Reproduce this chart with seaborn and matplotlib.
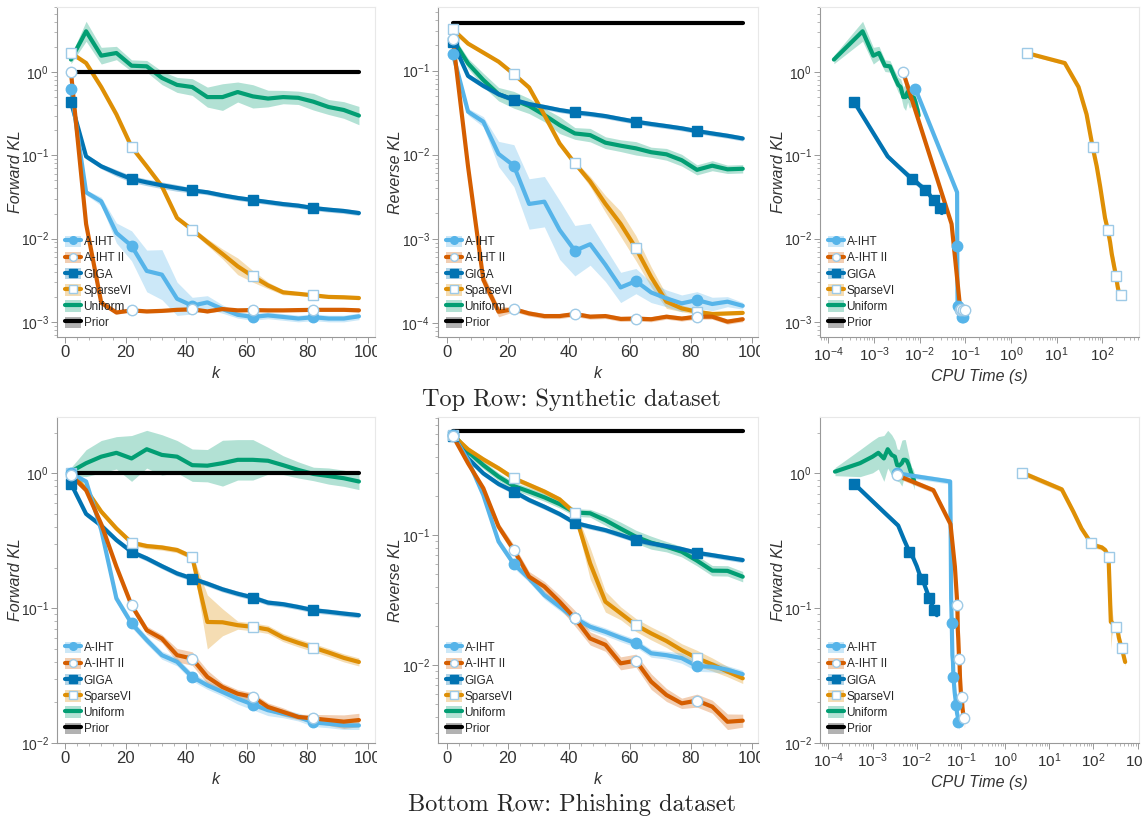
"""
Coreset comparison figure: forward / reverse KL vs coreset size k and CPU time
"""
import numpy as np
import matplotlib
matplotlib.use('Agg')
import matplotlib.pyplot as plt
from matplotlib.lines import Line2D
from matplotlib.patches import Patch
from matplotlib.ticker import AutoMinorLocator, LogLocator, NullFormatter
from matplotlib.transforms import Bbox, TransformedBbox
import seaborn as sns

# ---------------- data ----------------
k = [2, 7, 12, 17, 22, 27, 32, 37, 42, 47, 52, 57, 62, 67, 72, 77, 82, 87, 92, 97]
marker_k = [2, 22, 42, 62, 82]

# Synthetic dataset, forward KL
syn_fwd_aiht = [0.625, 0.036, 0.028, 0.0117, 0.0082, 0.0041, 0.0037, 0.0019, 0.00157, 0.00172,
                0.00143, 0.00122, 0.00115, 0.0012, 0.00115, 0.0011, 0.00114, 0.0011, 0.0011, 0.00117]
syn_fwd_aiht2 = [1.0, 0.015, 0.0017, 0.0013, 0.00138, 0.00134, 0.00136, 0.0014, 0.00142, 0.00134,
                 0.00143, 0.00138, 0.00139, 0.00138, 0.00138, 0.00139, 0.0014, 0.0014, 0.0014, 0.00138]
syn_fwd_giga = [0.436, 0.097, 0.0738, 0.0614, 0.052, 0.0474, 0.0437, 0.0406, 0.038, 0.036,
                0.0331, 0.0308, 0.0291, 0.0275, 0.026, 0.0249, 0.0233, 0.0223, 0.0215, 0.0203]
syn_fwd_svi = [1.69, 1.28, 0.66, 0.31, 0.126, 0.0738, 0.0425, 0.0177, 0.0128, 0.0091,
               0.00655, 0.00466, 0.00353, 0.00275, 0.00227, 0.00218, 0.00209, 0.002, 0.00198, 0.00194]
syn_fwd_unif = [1.41, 3.08, 1.57, 1.69, 1.19, 1.17, 0.85, 0.70, 0.66, 0.50,
                0.50, 0.575, 0.51, 0.48, 0.50, 0.49, 0.44, 0.38, 0.35, 0.30]
syn_fwd_prior = 1.0

# Synthetic dataset, reverse KL
syn_rev_aiht = [0.16, 0.0325, 0.0247, 0.0102, 0.0074, 0.00259, 0.00276, 0.00127, 0.00072, 0.00086,
                0.00049, 0.000263, 0.000313, 0.000229, 0.000195, 0.00017, 0.000186, 0.000167, 0.000178, 0.000159]
syn_rev_aiht2 = [0.24, 0.0072, 0.000324, 0.000135, 0.000145, 0.000129, 0.00012, 0.00012, 0.000127, 0.000118,
                 0.00012, 0.000111, 0.000112, 0.00011, 0.000118, 0.000112, 0.000118, 0.000118, 0.000103, 0.00011]
syn_rev_giga = [0.221, 0.0865, 0.066, 0.0525, 0.045, 0.040, 0.037, 0.034, 0.0319, 0.0305,
                0.0288, 0.0266, 0.0247, 0.0232, 0.0219, 0.0206, 0.0191, 0.0179, 0.0168, 0.0156]
syn_rev_svi = [0.31, 0.21, 0.164, 0.128, 0.091, 0.063, 0.0297, 0.0136, 0.0079, 0.0048,
               0.0026, 0.0015, 0.00077, 0.00035, 0.000178, 0.000148, 0.000135, 0.000127, 0.000129, 0.000131]
syn_rev_unif = [0.236, 0.122, 0.0775, 0.0525, 0.045, 0.038, 0.0297, 0.0225, 0.0179, 0.0171,
                0.0139, 0.0128, 0.0119, 0.0107, 0.0101, 0.0086, 0.0066, 0.0074, 0.0067, 0.0068]
syn_rev_prior = 0.372

# Synthetic dataset, CPU time (s)
syn_t_aiht = [0.0081, 0.066, 0.0662, 0.0664, 0.0666, 0.0668, 0.067, 0.0675, 0.068, 0.072,
              0.076, 0.080, 0.085, 0.087, 0.088, 0.089, 0.090, 0.091, 0.092, 0.093]
syn_t_aiht2 = [0.00435, 0.05, 0.075, 0.077, 0.078, 0.079, 0.080, 0.081, 0.082, 0.084,
               0.086, 0.088, 0.090, 0.092, 0.094, 0.096, 0.100, 0.101, 0.102, 0.103]
syn_t_giga = [0.00037, 0.0020, 0.0034, 0.0049, 0.0068, 0.0086, 0.0101, 0.012, 0.0134, 0.0155,
              0.0168, 0.0183, 0.0204, 0.0216, 0.0232, 0.0248, 0.0276, 0.0285, 0.0295, 0.0305]
syn_t_svi = [2.2, 15, 30, 45, 61, 75, 89, 114, 131, 147,
             160, 180, 199, 213, 228, 244, 257, 265, 272, 280]
syn_t_unif = [0.000133, 0.000565, 0.00097, 0.00129, 0.00174, 0.00224, 0.00288, 0.00341, 0.00384, 0.00439,
              0.00493, 0.00546, 0.00594, 0.00646, 0.00703, 0.00752, 0.00804, 0.0086, 0.00904, 0.0095]

# Phishing dataset, forward KL
phi_fwd_aiht = [1.0, 0.87, 0.38, 0.118, 0.077, 0.058, 0.0448, 0.040, 0.0309, 0.0268,
                0.0239, 0.0213, 0.0193, 0.0175, 0.0165, 0.0156, 0.0142, 0.0139, 0.0135, 0.0135]
phi_fwd_aiht2 = [0.97, 0.75, 0.42, 0.203, 0.105, 0.0687, 0.0595, 0.0448, 0.0423, 0.0309,
                 0.026, 0.0232, 0.022, 0.0185, 0.017, 0.0156, 0.0152, 0.0148, 0.0144, 0.0148]
phi_fwd_giga = [0.84, 0.50, 0.41, 0.32, 0.262, 0.234, 0.205, 0.181, 0.166, 0.152,
                0.138, 0.128, 0.12, 0.110, 0.107, 0.102, 0.0966, 0.094, 0.0912, 0.0887]
phi_fwd_svi = [1.01, 0.76, 0.52, 0.39, 0.306, 0.289, 0.282, 0.27, 0.24, 0.079,
               0.0786, 0.0748, 0.0727, 0.0695, 0.0605, 0.0553, 0.051, 0.0469, 0.0428, 0.0399]
phi_fwd_unif = [1.03, 1.19, 1.33, 1.42, 1.29, 1.51, 1.37, 1.33, 1.15, 1.14,
                1.19, 1.26, 1.26, 1.24, 1.15, 1.06, 0.99, 0.955, 0.92, 0.87]
phi_fwd_prior = 1.0

# Phishing dataset, reverse KL
phi_rev_aiht = [0.587, 0.378, 0.203, 0.089, 0.0598, 0.0464, 0.0345, 0.0281, 0.0229, 0.0197,
                0.018, 0.0162, 0.0147, 0.0123, 0.0119, 0.0113, 0.0098, 0.0097, 0.0092, 0.0085]
phi_rev_aiht2 = [0.58, 0.356, 0.229, 0.116, 0.0767, 0.0478, 0.0401, 0.0307, 0.0229, 0.016,
                 0.0143, 0.0103, 0.0108, 0.00745, 0.00588, 0.00507, 0.00532, 0.00478, 0.00366, 0.00373]
phi_rev_giga = [0.58, 0.389, 0.298, 0.247, 0.216, 0.186, 0.165, 0.145, 0.124, 0.116,
                0.109, 0.1, 0.0915, 0.0863, 0.0822, 0.078, 0.073, 0.070, 0.067, 0.0642]
phi_rev_svi = [0.587, 0.456, 0.382, 0.326, 0.273, 0.243, 0.216, 0.188, 0.147, 0.0605,
               0.0307, 0.025, 0.0203, 0.0175, 0.0153, 0.013, 0.0113, 0.0101, 0.0089, 0.0079]
phi_rev_unif = [0.6, 0.437, 0.345, 0.281, 0.238, 0.216, 0.195, 0.173, 0.149, 0.147,
                0.130, 0.112, 0.097, 0.0873, 0.0813, 0.0744, 0.0635, 0.0532, 0.053, 0.0478]
phi_rev_prior = 0.635

# Phishing dataset, CPU time (s)
phi_t_aiht = [0.0035, 0.057, 0.0585, 0.060, 0.062, 0.063, 0.064, 0.066, 0.0675, 0.070,
              0.072, 0.075, 0.078, 0.080, 0.082, 0.085, 0.088, 0.090, 0.091, 0.092]
phi_t_aiht2 = [0.0035, 0.0238, 0.058, 0.073, 0.083, 0.085, 0.087, 0.090, 0.0925, 0.095,
               0.098, 0.100, 0.1045, 0.108, 0.111, 0.115, 0.118, 0.119, 0.120, 0.121]
phi_t_giga = [0.00038, 0.0020, 0.0038, 0.0052, 0.0068, 0.0084, 0.010, 0.0114, 0.013, 0.0146,
              0.0163, 0.0177, 0.0194, 0.0207, 0.0218, 0.0233, 0.025, 0.026, 0.0273, 0.0284]
phi_t_svi = [2.47, 19.2, 35, 53.5, 87, 119, 155, 184, 219, 247,
             260, 284, 326, 349, 375, 402, 438, 462, 494, 521]
phi_t_unif = [0.000141, 0.00052, 0.0010, 0.00135, 0.0018, 0.0022, 0.0027, 0.0032, 0.0036, 0.0040,
              0.0046, 0.0050, 0.0055, 0.0060, 0.0066, 0.0071, 0.0076, 0.0080, 0.0084, 0.0088]

# half width of the shaded bands (decades)
syn_fwd_band = {
    'A-IHT': [0.02, 0.03, 0.05, 0.12, 0.18, 0.25, 0.3, 0.2, 0.1, 0.08, 0.05, 0.04, 0.04, 0.04, 0.04, 0.04, 0.04, 0.04, 0.04, 0.04],
    'A-IHT II': [0.02] * 20,
    'GIGA': [0.02, 0.03, 0.03, 0.04, 0.04, 0.04, 0.04, 0.04, 0.03, 0.03, 0.03, 0.03, 0.03, 0.03, 0.03, 0.03, 0.03, 0.03, 0.03, 0.03],
    'SparseVI': [0.02, 0.02, 0.02, 0.02, 0.02, 0.02, 0.02, 0.02, 0.03, 0.04, 0.06, 0.1, 0.07, 0.04, 0.03, 0.02, 0.02, 0.02, 0.02, 0.02],
    'Uniform': [0.05, 0.12, 0.10, 0.08, 0.07, 0.07, 0.08, 0.09, 0.10, 0.12, 0.16, 0.12, 0.14, 0.10, 0.08, 0.08, 0.10, 0.09, 0.10, 0.11],
}
syn_rev_band = {
    'A-IHT': [0.02, 0.04, 0.06, 0.15, 0.25, 0.3, 0.3, 0.35, 0.3, 0.25, 0.2, 0.18, 0.15, 0.12, 0.1, 0.1, 0.1, 0.08, 0.06, 0.04],
    'A-IHT II': [0.02, 0.03, 0.08, 0.06, 0.03, 0.03, 0.03, 0.03, 0.03, 0.03, 0.03, 0.03, 0.03, 0.03, 0.03, 0.03, 0.03, 0.03, 0.03, 0.03],
    'GIGA': [0.03] * 20,
    'SparseVI': [0.02, 0.02, 0.02, 0.02, 0.02, 0.03, 0.03, 0.03, 0.03, 0.06, 0.1, 0.15, 0.15, 0.12, 0.08, 0.04, 0.03, 0.03, 0.02, 0.02],
    'Uniform': [0.05, 0.06, 0.08, 0.08, 0.1, 0.09, 0.08, 0.1, 0.07, 0.08, 0.07, 0.07, 0.08, 0.06, 0.07, 0.07, 0.06, 0.06, 0.05, 0.05],
}
phi_fwd_band = {
    'A-IHT': [0.02, 0.02, 0.02, 0.03, 0.03, 0.03, 0.03, 0.03, 0.03, 0.03, 0.03, 0.04, 0.04, 0.04, 0.03, 0.03, 0.03, 0.03, 0.03, 0.03],
    'A-IHT II': [0.02, 0.02, 0.02, 0.02, 0.03, 0.03, 0.03, 0.05, 0.05, 0.05, 0.03, 0.03, 0.03, 0.03, 0.03, 0.02, 0.03, 0.04, 0.05, 0.05],
    'GIGA': [0.02] * 20,
    'SparseVI': [0.02, 0.02, 0.02, 0.02, 0.02, 0.02, 0.02, 0.02, 0.02, 0.2, 0.1, 0.03, 0.03, 0.03, 0.03, 0.03, 0.03, 0.03, 0.03, 0.03],
    'Uniform': [0.03, 0.1, 0.12, 0.12, 0.17, 0.14, 0.15, 0.12, 0.12, 0.12, 0.17, 0.15, 0.15, 0.1, 0.07, 0.06, 0.05, 0.06, 0.06, 0.06],
}
phi_rev_band = {
    'A-IHT': [0.02, 0.02, 0.02, 0.03, 0.03, 0.03, 0.03, 0.03, 0.03, 0.03, 0.03, 0.03, 0.03, 0.03, 0.03, 0.04, 0.04, 0.04, 0.03, 0.03],
    'A-IHT II': [0.02, 0.02, 0.02, 0.03, 0.04, 0.04, 0.04, 0.05, 0.06, 0.05, 0.05, 0.05, 0.05, 0.06, 0.05, 0.04, 0.05, 0.05, 0.06, 0.05],
    'GIGA': [0.02] * 20,
    'SparseVI': [0.02, 0.02, 0.02, 0.02, 0.02, 0.02, 0.02, 0.02, 0.03, 0.12, 0.08, 0.05, 0.05, 0.05, 0.05, 0.05, 0.06, 0.05, 0.04, 0.04],
    'Uniform': [0.02, 0.03, 0.03, 0.03, 0.03, 0.03, 0.03, 0.03, 0.03, 0.03, 0.04, 0.05, 0.05, 0.05, 0.04, 0.04, 0.04, 0.04, 0.04, 0.04],
}

methods = ['A-IHT', 'A-IHT II', 'GIGA', 'SparseVI', 'Uniform']
draw_order = ['Uniform', 'SparseVI', 'GIGA', 'A-IHT', 'A-IHT II']

# ---------------- style ----------------
sns.set_theme(style='ticks')
plt.rcParams['font.family'] = ['Liberation Sans', 'DejaVu Sans']
plt.rcParams['mathtext.fontset'] = 'custom'
plt.rcParams['mathtext.rm'] = 'Liberation Sans'

pal = sns.color_palette('colorblind')
colors = {'A-IHT': pal[9], 'A-IHT II': pal[3], 'GIGA': pal[0],
          'SparseVI': pal[1], 'Uniform': pal[2], 'Prior': 'black'}
edge = '#9ecae6'
marker_style = {
    'A-IHT': dict(marker='o', mfc=pal[9], mec=pal[9]),
    'A-IHT II': dict(marker='o', mfc='white', mec=edge),
    'GIGA': dict(marker='s', mfc=pal[0], mec=pal[0]),
    'SparseVI': dict(marker='s', mfc='white', mec=edge),
}
LW = 3.0
MS = 7.5
LABEL_KW = dict(style='italic', fontsize=11.5, color='#333333')


def draw_panel(ax, xs, ys, bands, prior=None, xlog=False):
    for name in draw_order:
        x = np.array(xs[name])
        y = np.array(ys[name])
        w = 10 ** np.array(bands[name])
        ax.fill_between(x, y / w, y * w, color=colors[name], alpha=0.3, lw=0, zorder=1)
    for name in draw_order:
        sns.lineplot(x=xs[name], y=ys[name], ax=ax, color=colors[name], lw=LW,
                     sort=False, estimator=None, zorder=3)
    if prior is not None:
        sns.lineplot(x=k, y=[prior] * len(k), ax=ax, color='black', lw=LW,
                     estimator=None, zorder=4)
    for name in ['GIGA', 'SparseVI', 'A-IHT', 'A-IHT II']:
        idx = [i for i, kk in enumerate(k) if kk in marker_k]
        x = np.array(xs[name])[idx]
        y = np.array(ys[name])[idx]
        ax.plot(x, y, ls='none', ms=MS, mew=1.0, zorder=5, **marker_style[name])

    ax.set_yscale('log')
    if xlog:
        ax.set_xscale('log')
        ax.xaxis.set_major_locator(LogLocator(base=10, numticks=12))
        ax.xaxis.set_minor_locator(LogLocator(base=10, subs=np.arange(2, 10), numticks=12))
        ax.xaxis.set_minor_formatter(NullFormatter())
        ax.set_xlabel('CPU Time (s)', **LABEL_KW)
        ax.tick_params(axis='x', which='major', labelsize=11)
    else:
        ax.set_xticks([0, 20, 40, 60, 80, 100])
        ax.xaxis.set_minor_locator(AutoMinorLocator(5))
        ax.set_xlabel('k', **LABEL_KW)
        ax.tick_params(axis='x', which='major', labelsize=12)
    ax.yaxis.set_minor_formatter(NullFormatter())

    for s in ['top', 'right']:
        ax.spines[s].set_color('#e8e8e8')
        ax.spines[s].set_linewidth(0.8)
    for s in ['left', 'bottom']:
        ax.spines[s].set_color('#999999')
        ax.spines[s].set_linewidth(0.8)
    ax.tick_params(which='major', length=4, width=0.7, color='#999999',
                   labelcolor='#333333', pad=2)
    ax.tick_params(axis='y', which='major', labelsize=10)
    ax.tick_params(which='minor', length=2.5, width=0.6, color='#aaaaaa')
    ax.yaxis.set_label_coords(-0.108, 0.5)

    handles = []
    for name in methods:
        ms = marker_style.get(name, {})
        line = Line2D([], [], color=colors[name], lw=LW, ms=5.5, mew=1.0, **ms)
        handles.append((Patch(facecolor=colors[name], alpha=0.3, lw=0), line))
    handles.append((Patch(facecolor='black', alpha=0.3, lw=0),
                    Line2D([], [], color='black', lw=LW)))
    ax.legend(handles, methods + ['Prior'], loc='lower left', frameon=False,
              fontsize=8.5, numpoints=1, handlelength=1.4, handleheight=1.1,
              handletextpad=0.2, labelspacing=0.3, borderaxespad=0.3, borderpad=0.35)


def clip_right(ax, extra_px=2):
    # the rightmost tick label is cut at the panel edge, as in the source figure
    fig.canvas.draw()
    x1 = ax.get_position().x1 + extra_px / W
    box = TransformedBbox(Bbox([[0, 0], [x1, 1]]), fig.transFigure)
    for lbl in ax.get_xticklabels():
        lbl.set_clip_box(box)
        lbl.set_clip_on(True)


fig = plt.figure(figsize=(11.43, 8.18), dpi=100)
W, H = 1143.0, 818.0


def add_axes(left, right, top, bottom):
    return fig.add_axes([left / W, 1 - bottom / H, (right - left) / W, (bottom - top) / H])


xs = {m: k for m in methods}
k_axes = []

# top row: synthetic
ax = add_axes(57, 375, 7, 337)
ys = dict(zip(methods, [syn_fwd_aiht, syn_fwd_aiht2, syn_fwd_giga, syn_fwd_svi, syn_fwd_unif]))
draw_panel(ax, xs, ys, syn_fwd_band, prior=syn_fwd_prior)
ax.set_xlim(-2.6, 102.3)
ax.set_ylim(10 ** -3.18, 10 ** 0.78)
ax.set_ylabel('Forward KL', **LABEL_KW)
k_axes.append(ax)

ax = add_axes(438, 758, 7, 337)
ys = dict(zip(methods, [syn_rev_aiht, syn_rev_aiht2, syn_rev_giga, syn_rev_svi, syn_rev_unif]))
draw_panel(ax, xs, ys, syn_rev_band, prior=syn_rev_prior)
ax.set_xlim(-2.85, 102)
ax.set_ylim(10 ** -4.17, 10 ** -0.242)
ax.set_ylabel('Reverse KL', **LABEL_KW)
k_axes.append(ax)

ax = add_axes(820, 1139, 7, 337)
ys = dict(zip(methods, [syn_fwd_aiht, syn_fwd_aiht2, syn_fwd_giga, syn_fwd_svi, syn_fwd_unif]))
ts = dict(zip(methods, [syn_t_aiht, syn_t_aiht2, syn_t_giga, syn_t_svi, syn_t_unif]))
draw_panel(ax, ts, ys, syn_fwd_band, xlog=True)
ax.set_xlim(10 ** -4.18, 10 ** 2.80)
ax.set_ylim(10 ** -3.18, 10 ** 0.78)
ax.set_ylabel('Forward KL', **LABEL_KW)

# bottom row: phishing
ax = add_axes(57, 375, 417, 743)
ys = dict(zip(methods, [phi_fwd_aiht, phi_fwd_aiht2, phi_fwd_giga, phi_fwd_svi, phi_fwd_unif]))
draw_panel(ax, xs, ys, phi_fwd_band, prior=phi_fwd_prior)
ax.set_xlim(-2.6, 102.3)
ax.set_ylim(10 ** -2.0, 10 ** 0.418)
ax.set_ylabel('Forward KL', **LABEL_KW)
k_axes.append(ax)

ax = add_axes(438, 758, 417, 743)
ys = dict(zip(methods, [phi_rev_aiht, phi_rev_aiht2, phi_rev_giga, phi_rev_svi, phi_rev_unif]))
draw_panel(ax, xs, ys, phi_rev_band, prior=phi_rev_prior)
ax.set_xlim(-2.85, 102)
ax.set_ylim(10 ** -2.6, 10 ** -0.092)
ax.set_ylabel('Reverse KL', **LABEL_KW)
k_axes.append(ax)

ax = add_axes(820, 1139, 417, 743)
ys = dict(zip(methods, [phi_fwd_aiht, phi_fwd_aiht2, phi_fwd_giga, phi_fwd_svi, phi_fwd_unif]))
ts = dict(zip(methods, [phi_t_aiht, phi_t_aiht2, phi_t_giga, phi_t_svi, phi_t_unif]))
draw_panel(ax, ts, ys, phi_fwd_band, xlog=True)
ax.set_xlim(10 ** -4.19, 10 ** 3.03)
ax.set_ylim(10 ** -2.0, 10 ** 0.418)
ax.set_ylabel('Forward KL', **LABEL_KW)

for a in k_axes:
    clip_right(a)

fig.text(0.5, 1 - 400 / H, 'Top Row: Synthetic dataset', family='cmr10',
         fontsize=17.5, ha='center', va='center')
fig.text(0.5, 1 - 805 / H, 'Bottom Row: Phishing dataset', family='cmr10',
         fontsize=17.5, ha='center', va='center')

fig.savefig('out.png', dpi=100, facecolor='white')
